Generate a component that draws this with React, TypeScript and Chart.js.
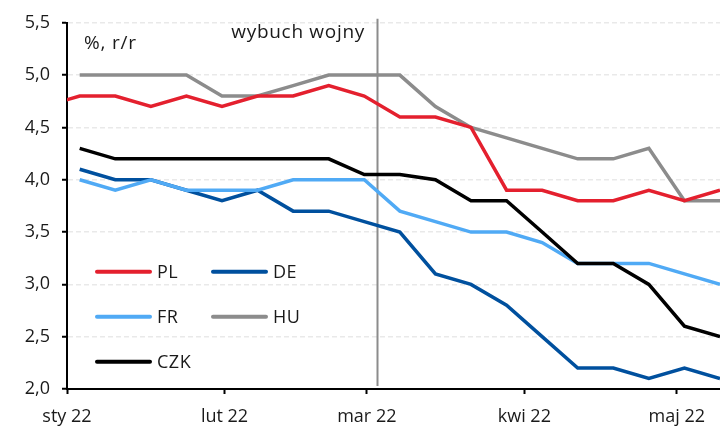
import React, { useEffect, useRef } from "react";
import { Chart, registerables } from "chart.js";

Chart.register(...registerables);

// ---- data ----
const weeks = [
  "2021-12-27", "2022-01-03", "2022-01-10", "2022-01-17", "2022-01-24", "2022-01-31",
  "2022-02-07", "2022-02-14", "2022-02-21", "2022-02-28", "2022-03-07", "2022-03-14",
  "2022-03-21", "2022-03-28", "2022-04-04", "2022-04-11", "2022-04-18", "2022-04-25",
  "2022-05-02", "2022-05-09",
];
const PL = [4.7, 4.8, 4.8, 4.7, 4.8, 4.7, 4.8, 4.8, 4.9, 4.8, 4.6, 4.6, 4.5, 3.9, 3.9, 3.8, 3.8, 3.9, 3.8, 3.9];
const DE = [null, 4.1, 4.0, 4.0, 3.9, 3.8, 3.9, 3.7, 3.7, 3.6, 3.5, 3.1, 3.0, 2.8, 2.5, 2.2, 2.2, 2.1, 2.2, 2.1];
const FR = [null, 4.0, 3.9, 4.0, 3.9, 3.9, 3.9, 4.0, 4.0, 4.0, 3.7, 3.6, 3.5, 3.5, 3.4, 3.2, 3.2, 3.2, 3.1, 3.0];
const HU = [null, 5.0, 5.0, 5.0, 5.0, 4.8, 4.8, 4.9, 5.0, 5.0, 5.0, 4.7, 4.5, 4.4, 4.3, 4.2, 4.2, 4.3, 3.8, 3.8];
const CZK = [null, 4.3, 4.2, 4.2, 4.2, 4.2, 4.2, 4.2, 4.2, 4.05, 4.05, 4.0, 3.8, 3.8, 3.5, 3.2, 3.2, 3.0, 2.6, 2.5];

const seriesNames = ["PL", "DE", "FR", "HU", "CZK"];
const seriesValues = [PL, DE, FR, HU, CZK];
const seriesColors = ["#E4202E", "#00509E", "#50AAF5", "#8C8C8C", "#000000"];

const monthTickDates = ["2022-01-01", "2022-02-01", "2022-03-01", "2022-04-01", "2022-05-01"];
const monthTickLabels = ["sty 22", "lut 22", "mar 22", "kwi 22", "maj 22"];
const yMin = 2.0;
const yMax = 5.5;
const yStep = 0.5;
const xEndDate = "2022-05-09";

const warDate = "2022-03-03";
const warLabel = "wybuch wojny";
const unitLabel = "%, r/r";

// ---- helpers ----
const ORIGIN = Date.UTC(2022, 0, 1);
const dayOf = (s: string) => (Date.parse(s + "T00:00:00Z") - ORIGIN) / 86400000;
const FONT = "'Open Sans', 'Noto Sans', sans-serif";
const FSIZE = 18;

export default function App() {
  const ref = useRef<HTMLCanvasElement | null>(null);

  useEffect(() => {
    if (!ref.current) return;

    const overlay = {
      id: "overlay",
      beforeDatasetsDraw(chart: any) {
        const { ctx, chartArea, scales } = chart;
        const x = Math.round(scales.x.getPixelForValue(dayOf(warDate))) + 0.5;
        ctx.save();
        ctx.strokeStyle = "#8C8C8C";
        ctx.lineWidth = 2;
        ctx.beginPath();
        ctx.moveTo(x, chartArea.top - 4);
        ctx.lineTo(x, chartArea.bottom - 3);
        ctx.stroke();
        ctx.restore();
      },
      afterDraw(chart: any) {
        const { ctx, chartArea, scales } = chart;
        const x = scales.x.getPixelForValue(dayOf(warDate));
        ctx.save();
        ctx.fillStyle = "#1a1a1a";
        ctx.font = `19px ${FONT}`;
        ctx.textBaseline = "middle";
        ctx.textAlign = "right";
        (ctx as any).letterSpacing = "0.7px";
        ctx.fillText(warLabel, x - 12, chartArea.top + 10);
        ctx.textAlign = "left";
        (ctx as any).letterSpacing = "0.8px";
        ctx.fillText(unitLabel, chartArea.left + 17, chartArea.top + 21);

        // legend
        ctx.font = `${FSIZE}px ${FONT}`;
        (ctx as any).letterSpacing = "0.5px";
        const lx0 = chartArea.left + 30;
        const colW = 116;
        const rowY0 = chartArea.top + 249;
        const rowH = 45;
        seriesNames.forEach((name, i) => {
          const col = i % 2;
          const row = Math.floor(i / 2);
          const lx = lx0 + col * colW;
          const ly = rowY0 + row * rowH;
          ctx.strokeStyle = seriesColors[i];
          ctx.lineWidth = 4;
          ctx.lineCap = "round";
          ctx.beginPath();
          ctx.moveTo(lx, ly);
          ctx.lineTo(lx + 53, ly);
          ctx.stroke();
          ctx.fillStyle = "#1a1a1a";
          ctx.textAlign = "left";
          ctx.fillText(name, lx + 60, ly + 1);
        });
        ctx.restore();
      },
    };

    const xs = weeks.map((w) => dayOf(w) + 0.5);
    const orders = [3, 4, 2, 5, 1];

    const chart = new Chart(ref.current, {
      type: "line",
      data: {
        datasets: seriesNames.map((name, i) => ({
          label: name,
          data: xs.map((x, j) => ({ x, y: seriesValues[i][j] as any })),
          borderColor: seriesColors[i],
          backgroundColor: seriesColors[i],
          borderWidth: 3.5,
          pointRadius: 0,
          tension: 0,
          fill: false,
          spanGaps: false,
          order: orders[i],
        })),
      },
      options: {
        animation: false,
        responsive: false,
        devicePixelRatio: 1,
        layout: { padding: { top: 22, right: 0, left: 0, bottom: 0 } },
        plugins: {
          legend: { display: false },
          tooltip: { enabled: false },
        },
        scales: {
          x: {
            type: "linear",
            min: 0,
            max: dayOf(xEndDate) + 0.5,
            afterBuildTicks: (s: any) => {
              s.ticks = monthTickDates.map((d) => ({ value: dayOf(d) }));
            },
            afterFit: (s: any) => {
              s.height = 37;
            },
            ticks: {
              autoSkip: false,
              maxRotation: 0,
              padding: 12,
              color: "#1a1a1a",
              font: { family: FONT, size: FSIZE },
              callback: (_v: any, i: number) => monthTickLabels[i],
            },
            grid: {
              drawOnChartArea: false,
              drawTicks: true,
              tickLength: 5,
              tickColor: "#000",
              tickWidth: 2,
            },
            border: { color: "#000", width: 2 },
          },
          y: {
            min: yMin,
            max: yMax,
            afterBuildTicks: (s: any) => {
              const t = [];
              for (let v = yMin; v <= yMax + 1e-9; v += yStep) t.push({ value: +v.toFixed(2) });
              s.ticks = t;
            },
            afterFit: (s: any) => {
              s.width = 67;
            },
            ticks: {
              padding: 12,
              color: "#1a1a1a",
              font: { family: FONT, size: FSIZE },
              callback: (v: any) => Number(v).toFixed(1).replace(".", ","),
            },
            grid: {
              color: "#E9E9E9",
              lineWidth: 1.5,
              drawTicks: true,
              tickLength: 5,
              tickColor: "#000",
              tickWidth: 2,
            },
            border: { color: "#000", width: 2, dash: [5, 3] },
          },
        },
      },
      plugins: [overlay],
    });

    return () => chart.destroy();
  }, []);

  return (
    <div style={{ position: "absolute", left: 0, top: 0, width: 720, height: 426, background: "#fff" }}>
      <canvas ref={ref} width={720} height={426} style={{ display: "block" }} />
    </div>
  );
}
